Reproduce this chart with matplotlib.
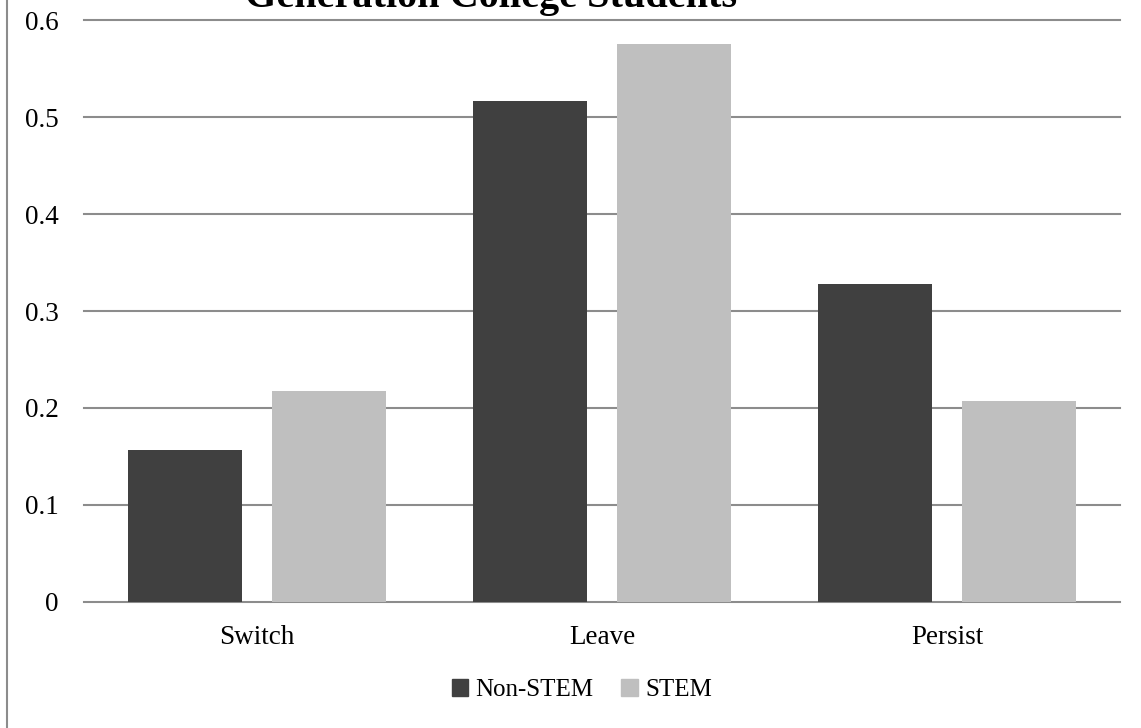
import matplotlib.pyplot as plt
import numpy as np
from matplotlib.lines import Line2D
from matplotlib.patches import Patch

plt.rcParams['font.family'] = ['Liberation Serif', 'DejaVu Serif']

categories = ['Switch', 'Leave', 'Persist']
non_stem = [0.157, 0.516, 0.328]
stem = [0.218, 0.575, 0.207]
y_ticks = [0, 0.1, 0.2, 0.3, 0.4, 0.5, 0.6]
y_tick_labels = ['0', '0.1', '0.2', '0.3', '0.4', '0.5', '0.6']

dark = '#404040'
light = '#bfbfbf'
grid_color = '#8c8c8c'

fig = plt.figure(figsize=(11.41, 7.28), dpi=100)
ax = fig.add_axes([0.0736, 0.1731, 0.908, 0.7994])

x = np.arange(len(categories))
w = 0.33
off = 0.2085
ax.bar(x - off, non_stem, width=w, color=dark, zorder=3, label='Non-STEM')
ax.bar(x + off, stem, width=w, color=light, zorder=3, label='STEM')

ax.set_xlim(-0.5, len(categories) - 0.5)
ax.set_ylim(0, 0.6)
ax.set_yticks(y_ticks)
ax.set_yticklabels(y_tick_labels)
ax.set_xticks(x)
ax.set_xticklabels(categories)

# horizontal gridlines, including the baseline
for t in y_ticks:
    ax.axhline(t, color=grid_color, lw=1.5, zorder=1, clip_on=False)

for s in ax.spines.values():
    s.set_visible(False)
ax.tick_params(axis='both', length=0, labelsize=19.5, colors='black')
ax.tick_params(axis='y', pad=18)
ax.tick_params(axis='x', pad=16.5)

# title, partly running off the top edge
fig.text(0.43, 1 - 7 / 728, 'Generation College Students', ha='center', va='baseline',
         fontsize=29, fontweight='bold')

handles = [Patch(color=dark), Patch(color=light)]
fig.legend(handles, ['Non-STEM', 'STEM'], loc='center', bbox_to_anchor=(0.51, 0.052),
           ncol=2, frameon=False, fontsize=18, handlelength=0.65, handleheight=0.65,
           handletextpad=0.3, columnspacing=1.1)

# chart border on the left edge
fig.add_artist(Line2D([7 / 1141, 7 / 1141], [0, 1], transform=fig.transFigure,
                      color=grid_color, lw=1.5))

fig.savefig('out.png', dpi=100)
